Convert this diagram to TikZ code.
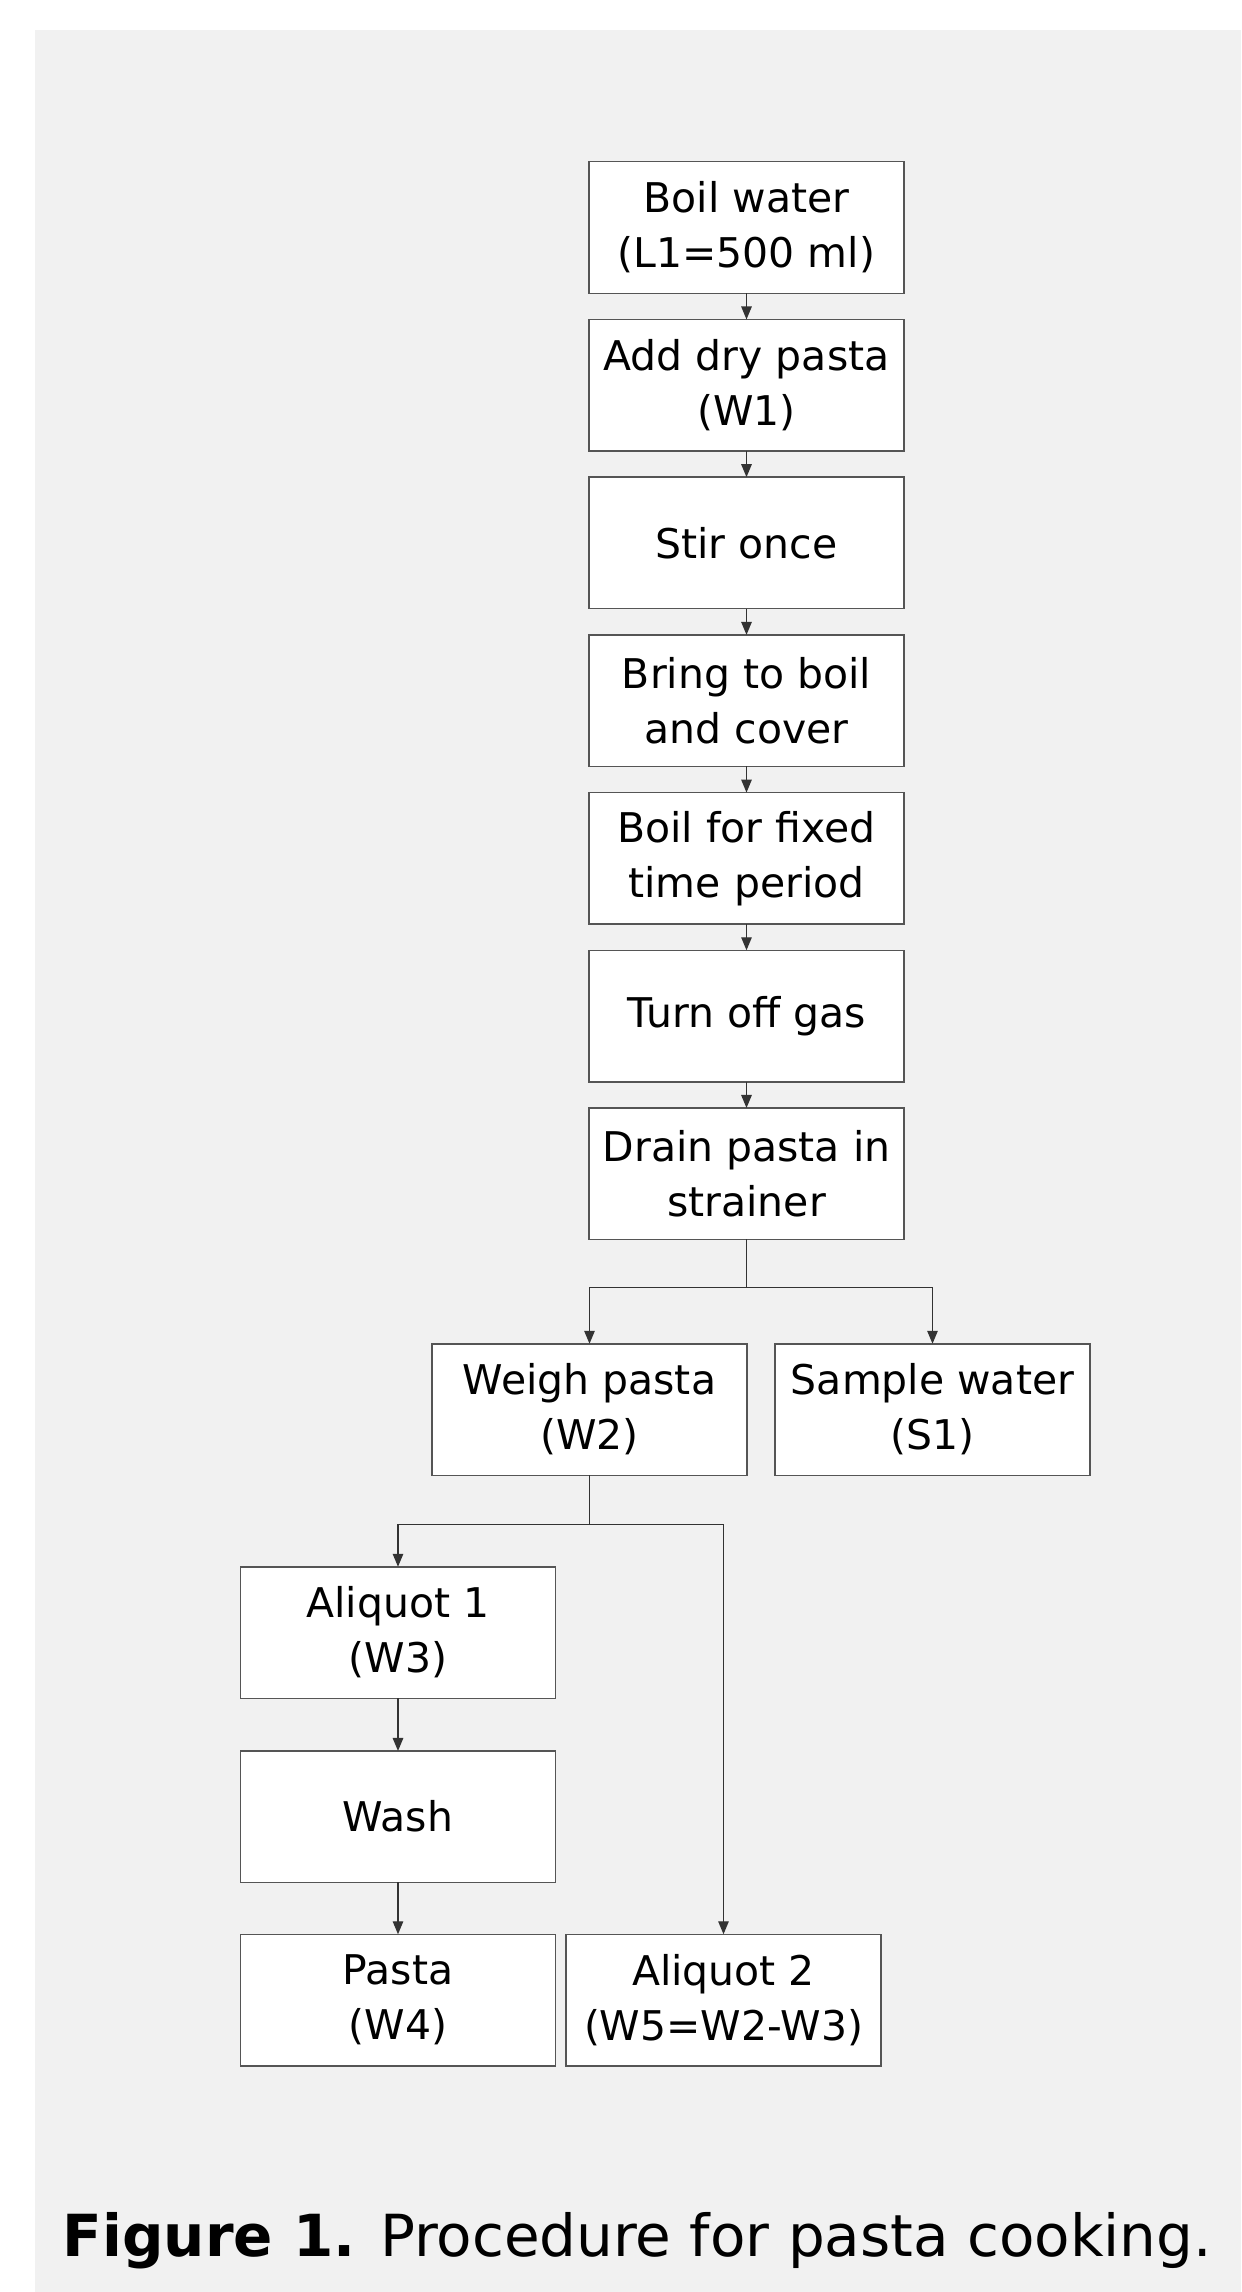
\documentclass[tikz,border=0pt]{standalone}
\usepackage{fontspec}
\setmainfont{DejaVu Sans}
\usetikzlibrary{arrows.meta, positioning, calc}
\definecolor{cpanel}{HTML}{F1F1F1}
\definecolor{cline}{HTML}{555555}
\definecolor{carrow}{HTML}{333333}
\tikzset{
  every picture/.style={line width=0.85pt},
  box/.style={draw=cline, fill=white, align=center, minimum width=6.3cm, minimum height=2.63cm,
    inner sep=2pt, outer sep=0pt, font=\fontsize{23.3pt}{31.3pt}\selectfont},
  arrow/.style={-{Triangle[length=2.6mm, width=2.1mm]}, draw=carrow, line width=0.75pt},
  caption/.style={font=\fontsize{33pt}{40pt}\selectfont, inner sep=0pt},
}
\begin{document}
\begin{tikzpicture}[node distance=0.524cm]
  \useasboundingbox (0,0) rectangle (24.82,-45.84);
  \fill[cpanel] (0.7,-0.6) rectangle (24.82,-45.84);
  % main column
  \node[box] (boil) at (14.93,-4.55) {Boil water\\(L1=500 ml)};
  \node[box, below=of boil] (add) {Add dry pasta\\(W1)};
  \node[box, below=of add] (stir) {Stir once};
  \node[box, below=of stir] (bring) {Bring to boil\\and cover};
  \node[box, below=of bring] (fixed) {Boil for fixed\\time period};
  \node[box, below=of fixed] (gas) {Turn off gas};
  \node[box, below=of gas] (drain) {Drain pasta in\\strainer};
  % split after draining
  \node[box] (weigh) at (11.79,-28.19) {Weigh pasta\\(W2)};
  \node[box] (sample) at (18.65,-28.19) {Sample water\\(S1)};
  \node[box] (aliq1) at (7.96,-32.65) {Aliquot 1\\(W3)};
  \node[box, below=1.054cm of aliq1] (wash) {Wash};
  \node[box] (pasta) at (7.96,-40.0) {Pasta\\(W4)};
  \node[box] (aliq2) at (14.47,-40.0) {Aliquot 2\\(W5=W2-W3)};
  \coordinate (split1) at ($(drain.south)+(0,-0.964)$);
  \coordinate (split2) at ($(weigh.south)+(0,-0.98)$);
  \foreach \a/\b in {boil/add, add/stir, stir/bring, bring/fixed, fixed/gas, gas/drain, aliq1/wash, wash/pasta}
    \draw[arrow] (\a) -- (\b);
  \draw[arrow] (drain.south) -- (split1) -| (weigh.north);
  \draw[arrow] (split1) -| (sample.north);
  \draw[arrow] (weigh.south) -- (split2) -| (aliq1.north);
  \draw[arrow] (split2) -| (aliq2.north);
  \node[caption, anchor=base west] (cap) at (1.24,-45.13) {\textbf{Figure 1.} Procedure for pasta cooking.};
\end{tikzpicture}
\end{document}
